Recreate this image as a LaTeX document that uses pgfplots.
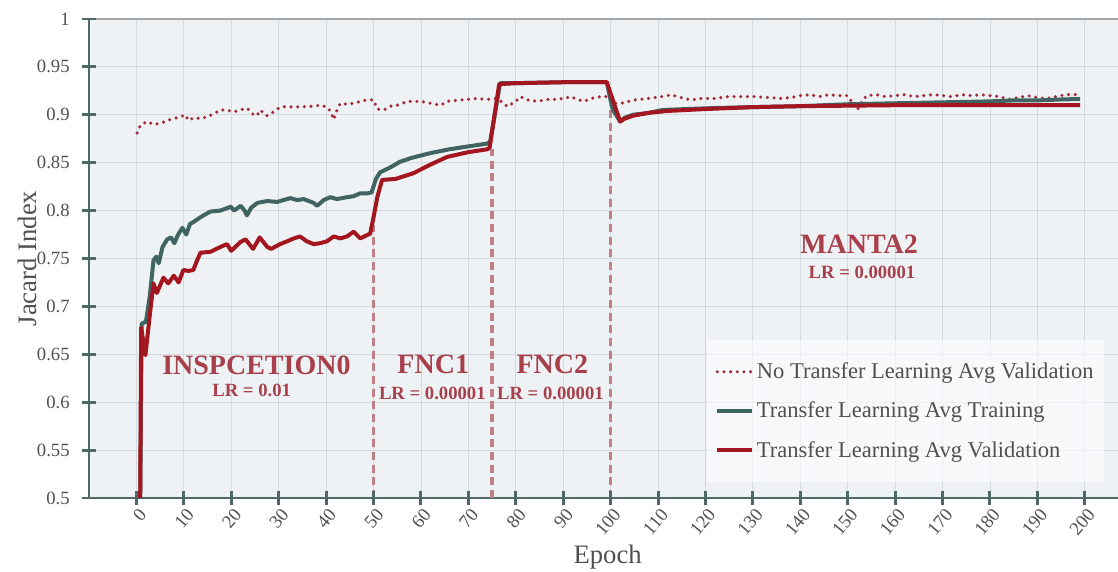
\documentclass[border=0pt]{standalone}
\usepackage{fontspec}
\setmainfont{Liberation Serif}
\usepackage{pgfplots}
\pgfplotsset{compat=1.18}
\usetikzlibrary{calc}

\definecolor{bgcol}{HTML}{EEF2F5}
\definecolor{gridcol}{HTML}{D3DAE0}
\definecolor{spine}{HTML}{4F6A66}
\definecolor{teal}{HTML}{3F6462}
\definecolor{valred}{HTML}{A3161F}
\definecolor{dotred}{HTML}{A32A36}
\definecolor{rose}{HTML}{C08088}
\definecolor{annot}{HTML}{A8404C}
\definecolor{ticktxt}{HTML}{505050}

\begin{document}
\begin{tikzpicture}
\begin{axis}[
    scale only axis,
    width=771.75pt, height=359.25pt,
    xmin=-10, xmax=207, ymin=0.5, ymax=1,
    axis lines=left,
    axis line style={-, line width=2.2pt, spine},
    axis background/.style={fill=bgcol},
    xtick={0,10,...,200},
    ytick={0.5,0.55,0.6,0.65,0.7,0.75,0.8,0.85,0.9,0.95,1},
    grid=major,
    major grid style={gridcol, line width=0.6pt},
    major tick length=0pt,
    /pgf/number format/assume math mode=true,
    ticklabel style={font=\fontsize{14}{16}\selectfont, text=ticktxt},
    yticklabel style={xshift=-11pt},
    xticklabel style={rotate=50, anchor=east, yshift=-10pt, xshift=-1pt},
    xlabel={Epoch},
    ylabel={Jacard Index},
    every axis x label/.style={at={([yshift=-44pt]axis description cs:0.504,0)}, anchor=center, font=\fontsize{20}{22}\selectfont, text=ticktxt},
    every axis y label/.style={at={([xshift=-46.5pt]axis description cs:0,0.5)}, rotate=90, anchor=center, font=\fontsize{20}{22}\selectfont, text=ticktxt},
    legend cell align=left,
    legend style={at={(0.6006,0.33)}, anchor=north west, draw=none, fill=white, fill opacity=0.6, text opacity=1,
        font=\fontsize{16.9}{19}\selectfont, text=ticktxt, row sep=12pt, inner xsep=6pt, inner ysep=15pt},
    legend image code/.code={\draw[#1] (0cm,0cm) -- (0.92cm,0cm);},
]
\draw[gray!70, line width=1pt] (rel axis cs:0,1) -- (rel axis cs:1,1);

% vertical phase separators
\addplot[rose, line width=2.8pt, dash pattern=on 6pt off 3.5pt, forget plot] coordinates {(50,0.5) (50,0.785)};
\addplot[rose, line width=2.8pt, dash pattern=on 6pt off 3.5pt, forget plot] coordinates {(75,0.5) (75,0.864)};
\addplot[rose, line width=2.8pt, dash pattern=on 6pt off 3.5pt, forget plot] coordinates {(100,0.5) (100,0.91)};

% no transfer learning, avg validation
\addplot[dotred, line width=2.6pt, line cap=round, dash pattern=on 0pt off 5pt] coordinates {
(0.14,0.881)(0.84,0.889)(2.25,0.893)(3.65,0.890)(5.06,0.891)(6.46,0.894)(7.87,0.896)(9.27,0.898)
(10.3,0.900)(11.0,0.894)(12.1,0.897)(13.5,0.896)(14.9,0.898)(16.3,0.901)(17.7,0.905)(19.1,0.905)
(20.5,0.903)(21.9,0.905)(23.3,0.907)(24.7,0.900)(25.4,0.899)(26.1,0.905)(27.5,0.899)(28.9,0.903)
(30.3,0.908)(31.8,0.9085)(33.2,0.908)(34.6,0.9085)(36,0.9085)(37.4,0.909)(38.8,0.910)(40.2,0.908)
(41,0.903)(41.6,0.895)(42.3,0.905)(43,0.912)(44.4,0.911)(45.8,0.912)(47.2,0.914)(48.6,0.9155)
(50,0.9155)(50.8,0.906)(52.2,0.905)(53.6,0.909)(55,0.910)(57.2,0.914)(60,0.914)(62,0.912)
(64.2,0.910)(65.5,0.914)(68.3,0.9155)(71.8,0.917)(74,0.916)(76,0.917)(77.5,0.912)(78.2,0.9085)
(80,0.914)(81,0.919)(82.5,0.9155)(84.6,0.914)(86.7,0.916)(88,0.916)(90.2,0.917)(91.6,0.919)
(93,0.916)(94.4,0.914)(95.8,0.917)(97.9,0.919)(100,0.919)(101,0.912)(102.3,0.912)(105,0.9155)
(107.8,0.917)(110.7,0.919)(112.8,0.9207)(114.9,0.918)(117,0.9155)(119,0.917)(122,0.917)(124.8,0.919)
(127.6,0.919)(130.4,0.919)(133.2,0.918)(136,0.917)(138,0.918)(140,0.920)(142,0.921)(144,0.919)
(146,0.921)(148,0.920)(150,0.920)(151,0.912)(152,0.905)(153,0.914)(154,0.920)(156,0.921)
(158,0.919)(160,0.920)(162,0.921)(164,0.919)(166,0.920)(168,0.921)(170,0.920)(172,0.919)
(174,0.921)(176,0.920)(178,0.921)(180,0.920)(182,0.919)(184,0.916)(186,0.918)(188,0.920)
(190,0.918)(192,0.917)(194,0.919)(196,0.921)(198,0.921)(199,0.922)
};
\addlegendentry{No Transfer Learning Avg Validation}

% transfer learning, avg training
\addplot[teal, line width=3pt, line join=round] coordinates {
(0.8,0.50)(1.1,0.682)(2,0.684)(2.8,0.71)(3.6,0.748)(4.2,0.752)(4.7,0.745)(5.5,0.762)(6.5,0.770)
(7.3,0.772)(8,0.766)(8.8,0.775)(9.7,0.782)(10.5,0.775)(11.3,0.786)(12,0.788)(13.5,0.793)(14.5,0.796)
(15.6,0.799)(17.7,0.800)(19.9,0.804)(20.6,0.800)(22,0.805)(22.8,0.800)(23.3,0.795)(24.2,0.803)
(25.5,0.808)(27.6,0.810)(29.7,0.809)(31,0.811)(32.5,0.813)(33.9,0.811)(35.3,0.812)(37.4,0.808)
(38.1,0.805)(39.5,0.811)(40.9,0.814)(42.3,0.812)(44.4,0.814)(45.8,0.815)(47.2,0.818)(48.7,0.818)
(49.6,0.819)(50.5,0.833)(51.4,0.840)(53.5,0.845)(55.6,0.851)(58,0.855)(62,0.860)(66,0.864)
(70,0.867)(74,0.870)(74.6,0.872)(76.7,0.933)(80,0.933)(90,0.934)(99.2,0.934)(100,0.915)
(100.5,0.905)(102,0.893)(103,0.897)(104.7,0.900)(108,0.902)(111,0.905)(116,0.906)(121.6,0.907)
(130,0.908)(140,0.909)(150,0.911)(160,0.912)(170,0.913)(180,0.914)(185,0.915)(190,0.915)
(195,0.916)(199,0.9165)
};
\addlegendentry{Transfer Learning Avg Training}

% transfer learning, avg validation
\addplot[valred, line width=3pt, line join=round] coordinates {
(0.8,0.50)(1.0,0.678)(1.9,0.649)(2.8,0.69)(3.6,0.724)(4.3,0.714)(5.7,0.730)(6.7,0.724)(7.9,0.732)
(8.9,0.725)(9.9,0.738)(11,0.737)(12,0.738)(12.8,0.748)(13.5,0.756)(15.6,0.757)(17.7,0.762)(19.1,0.765)
(20,0.758)(21.9,0.767)(23,0.770)(24.6,0.760)(26,0.772)(27.6,0.762)(28.4,0.760)(30.3,0.765)
(31.8,0.768)(33.2,0.771)(34.5,0.773)(35.9,0.768)(37.4,0.765)(38.8,0.766)(40.2,0.768)(41.6,0.773)
(43,0.771)(44.4,0.773)(45.8,0.778)(47.2,0.771)(49.3,0.776)(50,0.793)(50.8,0.814)(51.8,0.832)
(54.6,0.833)(56.5,0.836)(58.4,0.839)(62,0.848)(65.5,0.856)(70,0.861)(74,0.864)(74.5,0.866)
(76.5,0.932)(80,0.933)(90,0.934)(99.2,0.934)(102,0.893)(103,0.896)(104.7,0.899)(108,0.902)
(112,0.904)(120,0.906)(130,0.908)(140,0.909)(150,0.9095)(160,0.910)(170,0.910)(180,0.910)
(190,0.910)(199,0.910)
};
\addlegendentry{Transfer Learning Avg Validation}

% phase annotations
\node[text=annot, font=\fontsize{21}{24}\selectfont\bfseries] at (axis cs:25.3,0.639) {INSPCETION0};
\node[text=annot, font=\fontsize{14}{16}\selectfont\bfseries] at (axis cs:24.3,0.612) {LR = 0.01};
\node[text=annot, font=\fontsize{21}{24}\selectfont\bfseries] at (axis cs:62.6,0.640) {FNC1};
\node[text=annot, font=\fontsize{14}{16}\selectfont\bfseries] at (axis cs:62.4,0.609) {LR = 0.00001};
\node[text=annot, font=\fontsize{21}{24}\selectfont\bfseries] at (axis cs:87.7,0.640) {FNC2};
\node[text=annot, font=\fontsize{14}{16}\selectfont\bfseries] at (axis cs:87.3,0.609) {LR = 0.00001};
\node[text=annot, font=\fontsize{21}{24}\selectfont\bfseries] at (axis cs:152.4,0.765) {MANTA2};
\node[text=annot, font=\fontsize{14}{16}\selectfont\bfseries] at (axis cs:153,0.735) {LR = 0.00001};

\coordinate (sw) at (rel axis cs:0,0);
\coordinate (ne) at (rel axis cs:1,1);
\end{axis}
% tick marks, centred on the axis lines (x runs -10..207, y 0.5..1)
\foreach \e in {0,10,...,200}
    \draw[spine, line width=2.2pt] ($(sw)!{(\e+10)/217}!(sw-|ne)$) ++(0,-5.5pt) -- ++(0,11pt);
\foreach \k in {0,...,10}
    \draw[spine, line width=2.2pt] ($(sw)!{\k/10}!(sw|-ne)$) ++(-5.5pt,0) -- ++(11pt,0);
\pgfresetboundingbox
\path[use as bounding box] ($(sw)+(-66.75pt,-55.5pt)$) rectangle ($(ne)+(0,14.25pt)$);
\end{tikzpicture}
\end{document}
